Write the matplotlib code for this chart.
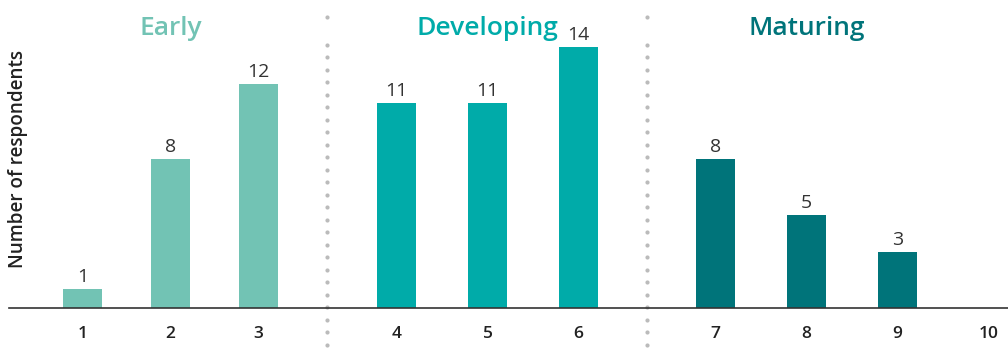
import matplotlib
matplotlib.use('Agg')
import matplotlib.pyplot as plt
import numpy as np

plt.rcParams['font.family'] = ['Open Sans', 'DejaVu Sans']

# data
categories = ['1', '2', '3', '4', '5', '6', '7', '8', '9', '10']
counts = [1, 8, 12, 11, 11, 14, 8, 5, 3, 0]
stage = [0, 0, 0, 1, 1, 1, 2, 2, 2, 2]
stage_names = ['Early', 'Developing', 'Maturing']
stage_colors = ['#72C3B4', '#00ABA9', '#00747A']

# layout of the groups (start, step)
group_start = [0.0, 3.470, 6.994]
group_step = [0.972, 1.0055, 1.0055]
xpos = []
for g in range(len(stage_names)):
    n = stage.count(g)
    xpos += [group_start[g] + k * group_step[g] for k in range(n)]

fig = plt.figure(figsize=(10.08, 3.54), dpi=100)
ax = fig.add_axes([0.0089, 0.1308, 0.9911, 0.8692])

for x, c, g in zip(xpos, counts, stage):
    if c == 0:
        continue
    ax.bar(x, c, width=0.431, color=stage_colors[g], zorder=2)
    ax.annotate(str(c), (x, c), xytext=(0, 2), textcoords='offset points',
                ha='center', va='bottom', fontsize=14, color='#333333')

ax.set_xlim(-0.812, 10.227)
ax.set_ylim(0, 16.52)

ax.set_xticks(xpos)
ax.set_xticklabels(categories, fontsize=12.5, fontweight='semibold', color='#222222')
ax.tick_params(axis='x', length=0, pad=13)
ax.set_yticks([])
for s in ['top', 'right', 'left']:
    ax.spines[s].set_visible(False)
ax.spines['bottom'].set_color('#333333')
ax.spines['bottom'].set_linewidth(1.2)

# stage titles over the middle bar of each group
for g, name in enumerate(stage_names):
    mid = [x for x, s in zip(xpos, stage) if s == g][1]
    ax.text(mid, 14.65, name, ha='center', va='baseline', fontsize=19,
            fontweight='semibold', color=stage_colors[g])

# dotted separators between groups
dots_y = np.append(np.arange(-2.0, 14.75, 0.671), 15.6)
for g in range(1, len(stage_names)):
    left = max(x for x, s in zip(xpos, stage) if s == g - 1)
    right = min(x for x, s in zip(xpos, stage) if s == g)
    ax.plot(np.full(len(dots_y), (left + right) / 2), dots_y, linestyle='none',
            marker='o', markersize=3.0, color='#BBBBBB', markeredgewidth=0,
            clip_on=False, zorder=1)

fig.text(0.018, 0.551, 'Number of respondents', rotation=90, ha='center',
         va='center', fontsize=13.6, fontweight='semibold', color='#222222')

fig.savefig('out.png', dpi=100)
